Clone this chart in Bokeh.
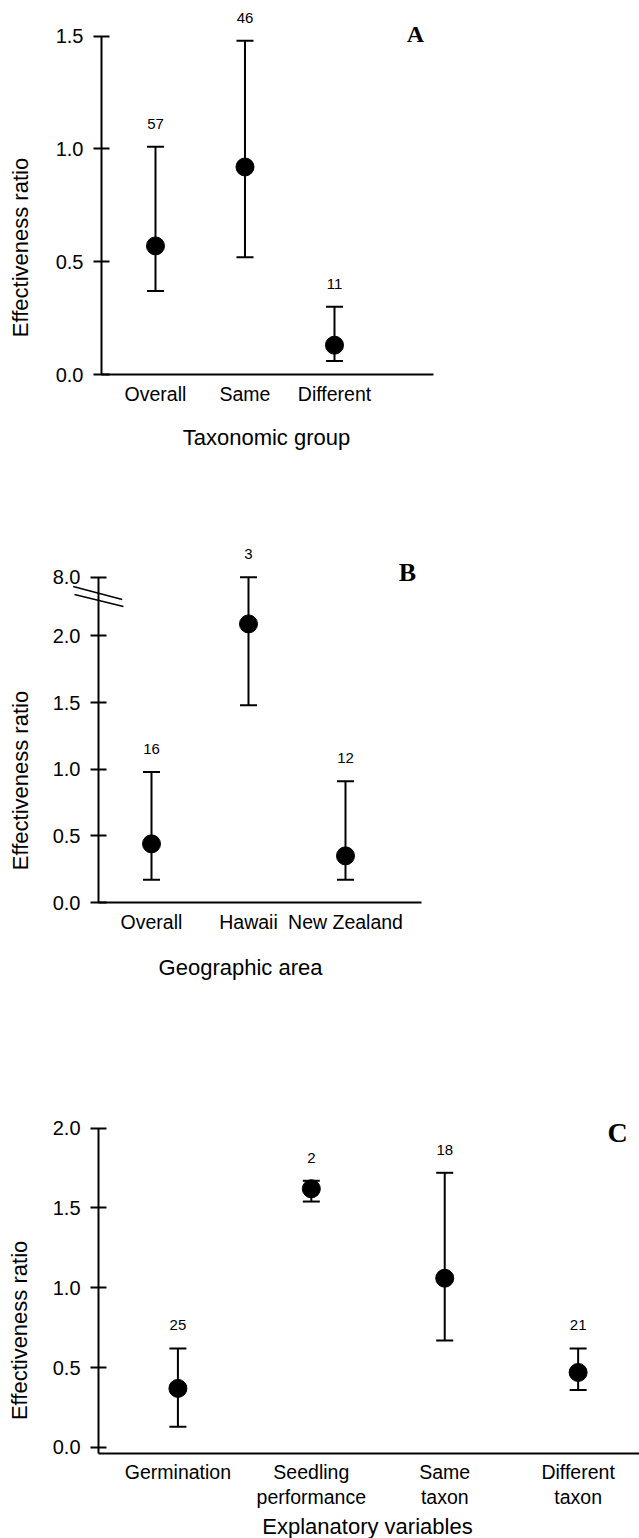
import numpy as np
from bokeh.plotting import figure
from bokeh.layouts import column
from bokeh.models import ColumnDataSource, FixedTicker, PrintfTickFormatter, Label, Range1d
from bokeh.core.properties import value
from bokeh.embed import file_html
from bokeh.resources import INLINE

# ---------------- data ----------------
# Panel A: taxonomic group
groups_a = ["Overall", "Same", "Different"]
mean_a = [0.57, 0.92, 0.13]
lower_a = [0.37, 0.52, 0.06]
upper_a = [1.01, 1.48, 0.30]
n_a = [57, 46, 11]
yticks_a = [0.0, 0.5, 1.0, 1.5]

# Panel B: geographic area (axis broken between 2.0 and 8.0)
groups_b = ["Overall", "Hawaii", "New Zealand"]
mean_b = [0.44, 2.09, 0.35]
lower_b = [0.17, 1.48, 0.17]
upper_b = [0.98, 8.0, 0.91]
n_b = [16, 3, 12]
yticks_b = [0.0, 0.5, 1.0, 1.5, 2.0, 8.0]

# Panel C: explanatory variables
groups_c = ["Germination", "Seedling\nperformance", "Same\ntaxon", "Different\ntaxon"]
mean_c = [0.37, 1.62, 1.06, 0.47]
lower_c = [0.13, 1.54, 0.67, 0.36]
upper_c = [0.62, 1.67, 1.72, 0.62]
n_c = [25, 2, 18, 21]
yticks_c = [0.0, 0.5, 1.0, 1.5, 2.0]

SANS = "Liberation Sans"
SERIF = "Liberation Serif"

# axis break for panel B
BREAK_LOW = 2.2
BREAK_AT = 2.44


def to_disp(v):
    return v if v <= BREAK_LOW else BREAK_AT + (v - 8.0) * 0.05


def ident(v):
    return v


def make_panel(height, bottom, xr, yaxis_at, xbounds, yr, xaxis_at, ybounds, groups, mean, lower,
               upper, n, yticks, ydisp, letter, letter_xy, letter_size, ytitle, ytitle_xy,
               xtitle, xtitle_xy):
    p = figure(width=639, height=height, x_range=Range1d(*xr), y_range=Range1d(*yr),
               output_backend="svg", toolbar_location=None,
               min_border_left=30, min_border_right=0, min_border_top=0,
               min_border_bottom=bottom)
    p.outline_line_color = None
    p.xgrid.visible = False
    p.ygrid.visible = False
    p.background_fill_color = "white"
    p.border_fill_color = "white"

    xs = list(range(1, len(groups) + 1))
    src = ColumnDataSource(dict(
        x=xs,
        m=[ydisp(v) for v in mean],
        lo=[ydisp(v) for v in lower],
        hi=[ydisp(v) for v in upper],
        n=[str(v) for v in n],
    ))
    p.segment(x0="x", y0="lo", x1="x", y1="hi", source=src, line_width=2, line_color="black")
    p.scatter(x="x", y="hi", source=src, marker="dash", size=17, line_width=2, line_color="black")
    p.scatter(x="x", y="lo", source=src, marker="dash", size=17, line_width=2, line_color="black")
    p.scatter(x="x", y="m", source=src, marker="circle", size=18, fill_color="black", line_color="black")
    p.text(x="x", y="hi", text="n", source=src, y_offset=-23, text_align="center",
           text_baseline="middle", text_font=value(SANS), text_font_size="15px", text_color="black")

    # y axis (drawn at a fixed x position inside the frame)
    ya = p.yaxis[0]
    ya.fixed_location = yaxis_at
    ya.ticker = FixedTicker(ticks=[ydisp(t) for t in yticks])
    ya.major_label_overrides = {ydisp(t): f"{t:.1f}" for t in yticks}
    ya.formatter = PrintfTickFormatter(format="%.1f")
    ya.bounds = ybounds
    ya.axis_line_width = 2
    ya.axis_line_color = "black"
    ya.major_tick_line_width = 2
    ya.major_tick_line_color = "black"
    ya.major_tick_in = 8
    ya.major_tick_out = 8
    ya.minor_tick_line_color = None
    ya.major_label_standoff = 10
    ya.major_label_text_font = SANS
    ya.major_label_text_font_size = "20px"
    ya.major_label_text_color = "black"

    # x axis (drawn at a fixed y position inside the frame)
    xa = p.xaxis[0]
    xa.fixed_location = xaxis_at
    xa.ticker = FixedTicker(ticks=xs)
    xa.major_label_overrides = {x: g for x, g in zip(xs, groups)}
    xa.bounds = xbounds
    xa.axis_line_width = 2
    xa.axis_line_color = "black"
    xa.major_tick_line_color = None
    xa.minor_tick_line_color = None
    xa.major_tick_in = 0
    xa.major_tick_out = 0
    xa.major_label_standoff = 8
    xa.major_label_text_font = SANS
    xa.major_label_text_font_size = "19.5px"
    xa.major_label_text_color = "black"
    xa.major_label_text_line_height = 1.1

    p.add_layout(Label(x=letter_xy[0], y=letter_xy[1], text=letter, text_font=SERIF,
                       text_font_style="bold", text_font_size=letter_size,
                       text_align="center", text_baseline="middle", text_color="black"))
    p.add_layout(Label(x=ytitle_xy[0], y=ytitle_xy[1], text=ytitle, angle=np.pi / 2,
                       text_font=SANS, text_font_size="22px", text_align="center",
                       text_baseline="middle", text_color="black"), "left")
    p.add_layout(Label(x=xtitle_xy[0], y=xtitle_xy[1], text=xtitle,
                       text_font=SANS, text_font_size="22px", text_align="center",
                       text_baseline="middle", text_color="black"), "below")
    return p


pA = make_panel(462, 42, (-0.3966, 6.408), 0.3966, (0.3966, 4.106), (-0.2039, 1.658), 0.0,
                (0.0, 1.5),
                groups_a, mean_a, lower_a, upper_a, n_a, yticks_a, ident,
                "A", (3.905, 1.511), "24px",
                "Effectiveness ratio", (-0.508, 0.563),
                "Taxonomic group", (2.24, -0.279))

pB = make_panel(518, 38, (-0.2474, 6.031), 0.4536, (0.4536, 3.7835), (-0.300, 3.301), 0.0,
                (0.0, BREAK_AT),
                groups_b, mean_b, lower_b, upper_b, n_b, yticks_b, to_disp,
                "B", (3.639, 2.476), "26px",
                "Effectiveness ratio", (-0.3505, 0.915),
                "Geographic area", (1.918, -0.488))
# break marks on the y axis of panel B (two slanted strokes)
pB.segment(x0=[0.193, 0.206], y0=[2.371, 2.311], x1=[0.698, 0.711], y1=[2.273, 2.221],
           line_width=1.5, line_color="black")

pC = make_panel(558, 28, (-0.105, 4.46), 0.4048, (0.4048, 4.46), (-0.3945, 2.924), -0.0376,
                (-0.0376, 2.0),
                groups_c, mean_c, lower_c, upper_c, n_c, yticks_c, ident,
                "C", (4.295, 1.972), "28px",
                "Effectiveness ratio", (-0.187, 0.733),
                "Explanatory variables", (2.421, -0.495))

layout = column(pA, pB, pC, spacing=0)
open("out.html", "w").write(file_html(layout, INLINE))
